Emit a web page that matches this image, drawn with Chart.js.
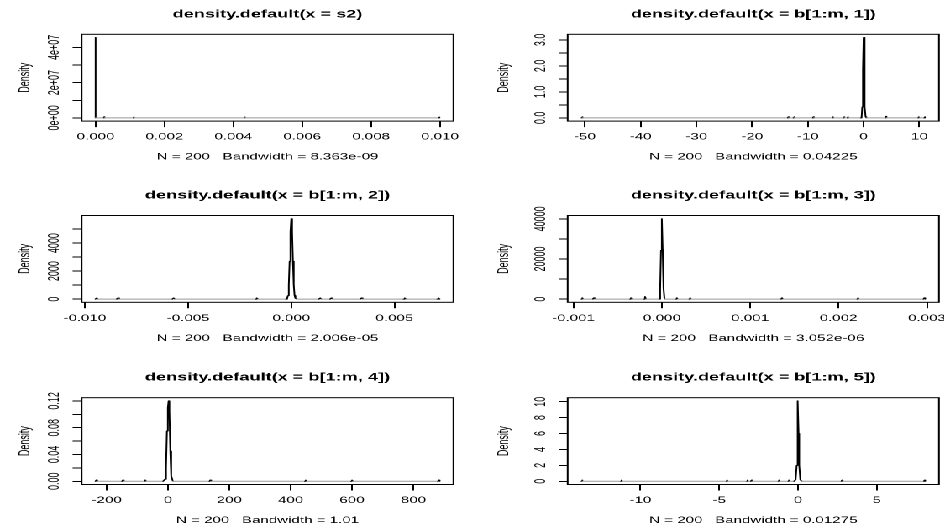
<!DOCTYPE html>
<html>
<head>
<meta charset="utf-8">
<script src="https://cdn.jsdelivr.net/npm/chart.js@4/dist/chart.umd.min.js"></script>
<style>
  html, body { margin: 0; padding: 0; background: #fff; width: 944px; height: 529px; overflow: hidden; }
  /* the reference is stretched horizontally, so draw narrow and scale x */
  #page { position: absolute; left: 0; top: 0; width: 562px; height: 529px; transform: scaleX(1.68); transform-origin: 0 0; }
  #page canvas { position: absolute; }
</style>
</head>
<body>
<div id="page"></div>
<script>
const titles = [
  'density.default(x = s2)',
  'density.default(x = b[1:m, 1])',
  'density.default(x = b[1:m, 2])',
  'density.default(x = b[1:m, 3])',
  'density.default(x = b[1:m, 4])',
  'density.default(x = b[1:m, 5])',
];
const bandwidths = ['8.363e-09', '0.04225', '2.006e-05', '3.052e-06', '1.01', '0.01275'];
const sampleSize = 200;

// density curves
const p1X = [-0.000005, -0.0000012, 0.0000002, 0.0000016, 0.00024, 0.00025, 0.00026, 0.00110, 0.00111, 0.00112,
  0.00432, 0.00433, 0.00434, 0.00997, 0.00998, 0.00999];
const p1Y = [0, 0, 45600000, 0, 0, 600000, 0, 0, 400000, 0, 0, 400000, 0, 0, 400000, 0];

const p2X = [-50.63, -50.5, -50.37, -13.6, -13.5, -13.4, -12.6, -12.5, -12.4, -9.1, -9.0, -8.9, -5.6, -5.5, -5.4,
  -3.6, -3.5, -3.4, -2.9, -2.8, -2.7, -0.5, -0.36, -0.24, -0.12, 0, 0.12, 0.24, 0.36, 0.5,
  3.9, 4.0, 4.1, 9.8, 9.9, 10.0, 10.85, 10.95, 11.05];
const p2Y = [0, 0.04, 0, 0, 0.04, 0, 0, 0.04, 0, 0, 0.04, 0, 0, 0.04, 0,
  0, 0.04, 0, 0, 0.04, 0, 0, 0.04, 0.42, 1.87, 3.09, 1.87, 0.42, 0.04, 0,
  0, 0.06, 0, 0, 0.04, 0, 0, 0.04, 0];

const p3X = [-0.00949, -0.00943, -0.00937, -0.00846, -0.0084, -0.00834, -0.00576, -0.0057, -0.00564,
  -0.00173, -0.00167, -0.00161,
  -0.00026, -0.0002, -0.00016, -0.00012, -0.00008, -0.00004, 0, 0.00004, 0.00008, 0.00012, 0.00016, 0.0002, 0.00026,
  0.00134, 0.0014, 0.00146, 0.00188, 0.00194, 0.002, 0.00334, 0.0034, 0.00346, 0.00544, 0.0055, 0.00556,
  0.00707, 0.00713, 0.00719];
const p3Y = [0, 80, 0, 0, 80, 0, 0, 80, 0,
  0, 80, 0,
  0, 60, 250, 1000, 2700, 4800, 5740, 4800, 2700, 1000, 250, 60, 0,
  0, 80, 0, 0, 80, 0, 0, 80, 0, 0, 80, 0,
  0, 80, 0];

const p4X = [-0.00091, -0.0009, -0.00089, -0.00078, -0.00077, -0.00076, -0.00036, -0.00035, -0.00034,
  -0.0002, -0.00019, -0.00018, -0.00003, -0.000019, -0.0000095, 0, 0.0000095, 0.000019, 0.00003,
  0.00016, 0.00017, 0.00018, 0.00031, 0.00032, 0.00033, 0.00135, 0.00136, 0.00137,
  0.00221, 0.00222, 0.00223, 0.00296, 0.00297, 0.00298];
const p4Y = [0, 600, 0, 0, 600, 0, 0, 600, 0,
  0, 1200, 0, 0, 5400, 24300, 40100, 24300, 5400, 0,
  0, 600, 0, 0, 600, 0, 0, 600, 0,
  0, 600, 0, 0, 600, 0];

const p5X = [-236.6, -233.6, -230.6, -150, -147, -144, -77, -74, -71,
  -16, -10, -6.5, -3.5, -0.5, 2, 4.5, 7.5, 10.5, 16,
  135, 138, 141, 446, 449, 452, 597, 600, 603, 879.6, 882.6, 885.6];
const p5Y = [0, 0.0018, 0, 0, 0.0018, 0, 0, 0.0018, 0,
  0, 0.003, 0.02, 0.075, 0.11, 0.12, 0.105, 0.045, 0.008, 0,
  0, 0.0018, 0, 0, 0.0018, 0, 0, 0.0018, 0, 0, 0.0018, 0];

const p6X = [-13.75, -13.71, -13.67, -11.24, -11.2, -11.16, -4.54, -4.5, -4.46, -3.24, -3.2, -3.16,
  -2.99, -2.95, -2.91, -1.24, -1.2, -1.16, -0.61, -0.57, -0.53,
  -0.25, -0.15, -0.08, -0.04, 0, 0.04, 0.08, 0.15, 0.25,
  2.76, 2.8, 2.84, 8.0, 8.04, 8.08];
const p6Y = [0, 0.14, 0, 0, 0.14, 0, 0, 0.14, 0, 0, 0.14, 0,
  0, 0.14, 0, 0, 0.14, 0, 0, 0.14, 0,
  0, 0.2, 2.0, 6.0, 10.1, 6.0, 2.0, 0.2, 0,
  0, 0.14, 0, 0, 0.14, 0];

// axis ticks (empty label = tick without text, as R drops overlapping ones)
const xTicks1 = [0, 0.002, 0.004, 0.006, 0.008, 0.010];
const xLabels1 = ['0.000', '0.002', '0.004', '0.006', '0.008', '0.010'];
const yTicks1 = [0, 1e7, 2e7, 3e7, 4e7];
const yLabels1 = ['0e+00', '', '2e+07', '', '4e+07'];

const xTicks2 = [-50, -40, -30, -20, -10, 0, 10];
const xLabels2 = ['-50', '-40', '-30', '-20', '-10', '0', '10'];
const yTicks2 = [0, 0.5, 1, 1.5, 2, 2.5, 3];
const yLabels2 = ['0.0', '', '1.0', '', '2.0', '', '3.0'];

const xTicks3 = [-0.010, -0.005, 0, 0.005];
const xLabels3 = ['-0.010', '-0.005', '0.000', '0.005'];
const yTicks3 = [0, 1000, 2000, 3000, 4000, 5000];
const yLabels3 = ['0', '', '2000', '', '4000', ''];

const xTicks4 = [-0.001, 0, 0.001, 0.002, 0.003];
const xLabels4 = ['-0.001', '0.000', '0.001', '0.002', '0.003'];
const yTicks4 = [0, 10000, 20000, 30000, 40000];
const yLabels4 = ['0', '', '20000', '', '40000'];

const xTicks5 = [-200, 0, 200, 400, 600, 800];
const xLabels5 = ['-200', '0', '200', '400', '600', '800'];
const yTicks5 = [0, 0.02, 0.04, 0.06, 0.08, 0.10, 0.12];
const yLabels5 = ['0.00', '', '0.04', '', '0.08', '', '0.12'];

const xTicks6 = [-10, -5, 0, 5];
const xLabels6 = ['-10', '-5', '0', '5'];
const yTicks6 = [0, 2, 4, 6, 8, 10];
const yLabels6 = ['0', '2', '4', '6', '8', '10'];

const panels = [
  {xs: p1X, ys: p1Y, xt: xTicks1, xl: xLabels1, yt: yTicks1, yl: yLabels1},
  {xs: p2X, ys: p2Y, xt: xTicks2, xl: xLabels2, yt: yTicks2, yl: yLabels2},
  {xs: p3X, ys: p3Y, xt: xTicks3, xl: xLabels3, yt: yTicks3, yl: yLabels3},
  {xs: p4X, ys: p4Y, xt: xTicks4, xl: xLabels4, yt: yTicks4, yl: yLabels4},
  {xs: p5X, ys: p5Y, xt: xTicks5, xl: xLabels5, yt: yTicks5, yl: yLabels5},
  {xs: p6X, ys: p6Y, xt: xTicks6, xl: xLabels6, yt: yTicks6, yl: yLabels6},
];

// page geometry, in unscaled (narrow) pixels
const cols = [
  {left: 0, width: 281, axisW: 48.6, padR: 11.1, ylabOff: 15.2},
  {left: 281, width: 281, axisW: 56.9, padR: 3.1, ylabOff: 18.8},
];
const rows = [
  {top: 0, boxTop: 34.3},
  {top: 181, boxTop: 34.5},
  {top: 363, boxTop: 34.7},
];
const BOX_H = 86.8;
const CANVAS_H = 166;

Chart.defaults.font.family = '"Liberation Sans", Arial, Helvetica, sans-serif';
Chart.defaults.font.size = 9;
Chart.defaults.font.lineHeight = 1;
Chart.defaults.color = '#000';

// R style: rotated y tick labels and the box round the plot region
const rFrame = {
  id: 'rFrame',
  afterDraw(chart, args, opts) {
    const {ctx, chartArea} = chart;
    const yScale = chart.scales.y;
    ctx.save();
    ctx.fillStyle = '#000';
    ctx.font = '9px "Liberation Sans", Arial, Helvetica, sans-serif';
    ctx.textAlign = 'center';
    ctx.textBaseline = 'middle';
    opts.values.forEach((v, i) => {
      if (!opts.labels[i]) return;
      ctx.save();
      ctx.translate(chartArea.left - opts.offset, yScale.getPixelForValue(v));
      ctx.rotate(-Math.PI / 2);
      ctx.fillText(opts.labels[i], 0, 0);
      ctx.restore();
    });
    ctx.strokeStyle = '#000';
    ctx.lineWidth = 1;
    ctx.strokeRect(chartArea.left, chartArea.top, chartArea.right - chartArea.left, chartArea.bottom - chartArea.top);
    ctx.restore();
  }
};

const page = document.getElementById('page');

panels.forEach((p, k) => {
  const col = cols[k % 2];
  const row = rows[Math.floor(k / 2)];

  const canvas = document.createElement('canvas');
  canvas.width = col.width;
  canvas.height = CANVAS_H;
  canvas.style.left = col.left + 'px';
  canvas.style.top = row.top + 'px';
  canvas.style.width = col.width + 'px';
  canvas.style.height = CANVAS_H + 'px';
  page.appendChild(canvas);

  // R extends both ranges by 4%
  const a = p.xs[0];
  const b = p.xs[p.xs.length - 1];
  const peak = Math.max(...p.ys);
  const hx = CANVAS_H - row.boxTop - BOX_H;

  new Chart(canvas.getContext('2d'), {
    type: 'line',
    data: {
      datasets: [{
        data: p.xs.map((x, i) => ({x: x, y: p.ys[i]})),
        borderColor: '#000',
        borderWidth: 1,
        borderJoinStyle: 'round',
        borderCapStyle: 'round',
        pointRadius: 0,
        tension: 0,
        fill: false,
        segment: {
          borderColor: c => (c.p0.parsed.y === 0 && c.p1.parsed.y === 0) ? '#999999' : '#000',
        },
      }]
    },
    options: {
      responsive: false,
      devicePixelRatio: 2,
      animation: false,
      events: [],
      layout: {padding: {left: 0, top: 0, right: col.padR, bottom: 0}, autoPadding: false},
      plugins: {
        legend: {display: false},
        tooltip: {enabled: false},
        title: {
          display: true,
          text: titles[k],
          fullSize: false,
          color: '#000',
          font: {size: 10.8, weight: 'bold', lineHeight: 1},
          padding: {top: row.boxTop - 25.4, bottom: 14.6},
        },
        rFrame: {values: p.yt, labels: p.yl, offset: 16},
      },
      scales: {
        x: {
          type: 'linear',
          min: a - 0.04 * (b - a),
          max: b + 0.04 * (b - a),
          afterBuildTicks: s => { s.ticks = p.xt.map(v => ({value: v})); },
          afterFit: s => { s.height = hx; s.paddingLeft = 0; s.paddingRight = 0; },
          ticks: {autoSkip: false, maxRotation: 0, padding: 5.5, callback: (v, i) => p.xl[i]},
          grid: {display: true, drawOnChartArea: false, drawTicks: true, tickLength: 6, color: '#000', lineWidth: 1},
          border: {display: false},
          title: {
            display: true,
            text: 'N = ' + sampleSize + '   Bandwidth = ' + bandwidths[k],
            padding: {top: 0, bottom: hx - 36 - 4.5},
          },
        },
        y: {
          type: 'linear',
          min: -0.04 * peak,
          max: 1.04 * peak,
          afterBuildTicks: s => { s.ticks = p.yt.map(v => ({value: v})); },
          afterFit: s => { s.width = col.axisW; s.paddingTop = 0; s.paddingBottom = 0; },
          ticks: {display: false},
          grid: {display: true, drawOnChartArea: false, drawTicks: true, tickLength: 5.4, color: '#000', lineWidth: 1},
          border: {display: false},
          title: {
            display: true,
            text: 'Density',
            padding: {top: col.ylabOff - 4.5, bottom: 0},
          },
        },
      },
    },
    plugins: [rFrame],
  });
});
</script>
</body>
</html>
